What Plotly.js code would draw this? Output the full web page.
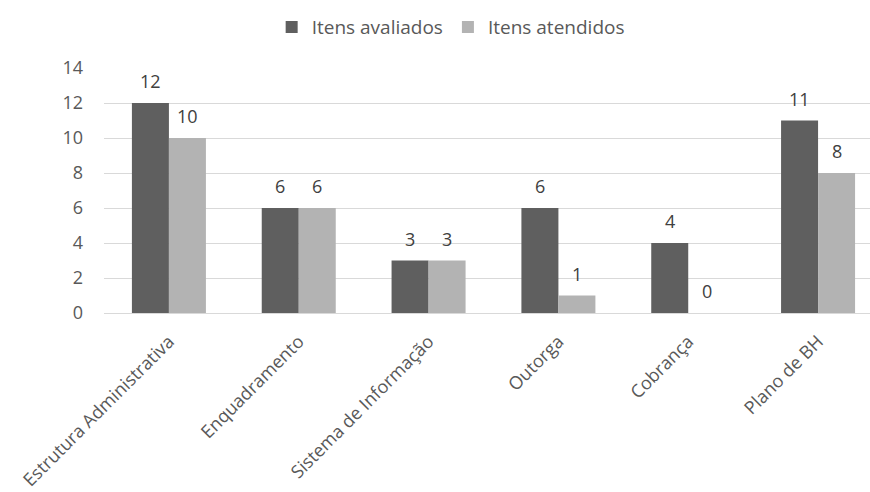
<!DOCTYPE html>
<html>
<head>
<meta charset="utf-8">
<script src="https://cdn.plot.ly/plotly-3.0.1.min.js"></script>
<style>
  html, body { margin: 0; padding: 0; background: #ffffff; }
  #chart { width: 870px; height: 492px; }
</style>
</head>
<body>
<div id="chart"></div>
<script>
// Categories (instrumentos de gestão) and counts per series
const categories = [
  "Estrutura Administrativa",
  "Enquadramento",
  "Sistema de Informação",
  "Outorga",
  "Cobrança",
  "Plano de BH"
];
const itensAvaliados = [12, 6, 3, 6, 4, 11];
const itensAtendidos = [10, 6, 3, 1, 0, 8];
const yTicks = [0, 2, 4, 6, 8, 10, 12, 14];

const FONT = "Open Sans, Noto Sans, sans-serif";
const TEXT_COLOR = "#595959";
const LABEL_COLOR = "#404040";

const series = [
  { name: "Itens avaliados", values: itensAvaliados, color: "#5f5f5f", offset: -0.5 },
  { name: "Itens atendidos", values: itensAtendidos, color: "#b3b3b3", offset: 0.5 }
];

const traces = series.map(s => ({
  type: "bar",
  name: s.name,
  x: categories,
  y: s.values,
  marker: { color: s.color }
}));

// Value labels sit a little above each bar, centred on it
const BAR_PX = 37;
const annotations = [];
series.forEach(s => {
  s.values.forEach((v, i) => {
    annotations.push({
      x: categories[i],
      y: v,
      xref: "x",
      yref: "y",
      text: String(v),
      showarrow: false,
      xanchor: "center",
      yanchor: "bottom",
      xshift: s.offset * BAR_PX,
      yshift: 8,
      font: { family: FONT, size: 18, color: LABEL_COLOR }
    });
  });
});

const layout = {
  width: 870,
  height: 492,
  margin: { l: 104, r: 0, t: 68, b: 179, pad: 0 },
  paper_bgcolor: "#ffffff",
  plot_bgcolor: "#ffffff",
  font: { family: FONT, size: 18, color: TEXT_COLOR },
  barmode: "group",
  bargap: 0.43,
  bargroupgap: 0,
  showlegend: true,
  legend: {
    orientation: "h",
    x: 0.518,
    xref: "container",
    xanchor: "center",
    y: 0.945,
    yref: "container",
    yanchor: "middle",
    font: { family: FONT, size: 19, color: TEXT_COLOR },
    itemwidth: 30,
    traceorder: "normal"
  },
  annotations: annotations,
  xaxis: {
    type: "category",
    range: [-0.5, 5.4],
    tickangle: -45,
    showgrid: false,
    showline: true,
    linecolor: "#d9d9d9",
    linewidth: 1,
    ticks: "",
    ticklabelstandoff: 10,
    tickfont: { family: FONT, size: 18, color: TEXT_COLOR },
    fixedrange: true
  },
  yaxis: {
    range: [0, 14],
    tickvals: yTicks,
    ticktext: yTicks.map(String),
    showgrid: true,
    gridcolor: "#d9d9d9",
    gridwidth: 1,
    zeroline: false,
    showline: false,
    ticks: "",
    ticklabelstandoff: 20,
    tickfont: { family: FONT, size: 18, color: TEXT_COLOR },
    fixedrange: true
  }
};

Plotly.newPlot("chart", traces, layout, { displayModeBar: false, staticPlot: true });
</script>
</body>
</html>
